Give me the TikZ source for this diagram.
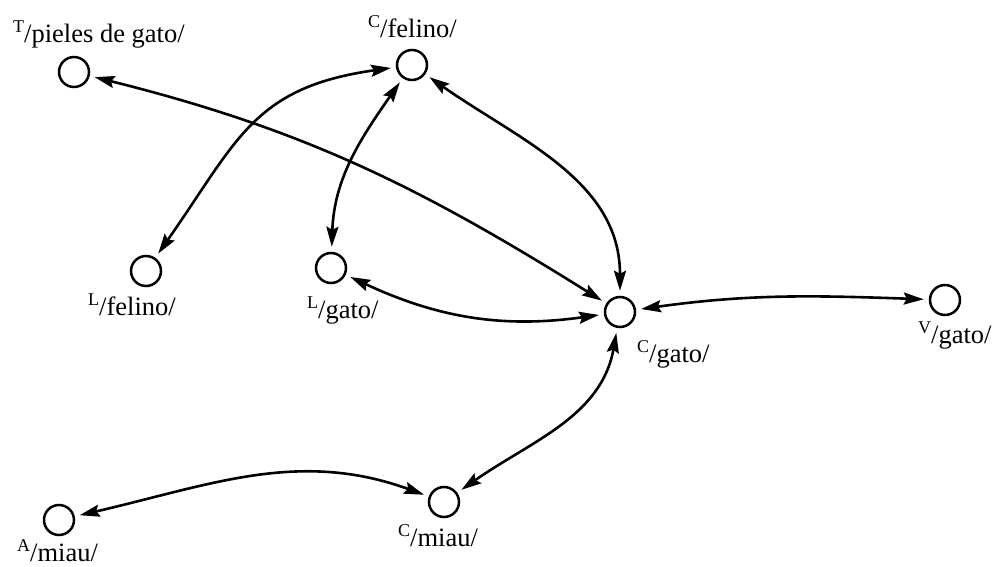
\documentclass[tikz,border=0pt]{standalone}
\usepackage{fontspec}
\setmainfont{Liberation Serif}
\usetikzlibrary{arrows.meta}
% a small raised level letter followed by the form between slashes
\newcommand\unitlabel[2]{\raisebox{10pt}{\fontsize{18}{18}\selectfont #1}/#2/}
\begin{document}
\begin{tikzpicture}[x=1pt,y=1pt,
  unit/.style={circle,draw,line width=2.5pt,minimum size=30pt,inner sep=0pt},
  tag/.style={anchor=base west,inner sep=0pt,font=\fontsize{26.5}{30}\selectfont},
  link/.style={line width=2.6pt,{Stealth[length=20pt,width=12pt,inset=3pt]}-{Stealth[length=20pt,width=12pt,inset=3pt]},
    shorten <=5pt,shorten >=5pt}]
\useasboundingbox (0,0) rectangle (994,-567);

% units
\node[unit] (T)     at (74,-72)  {};
\node[unit] (Cfel)  at (412,-65) {};
\node[unit] (Lfel)  at (146,-271) {};
\node[unit] (Lgato) at (331,-268) {};
\node[unit] (Cgato) at (620,-312) {};
\node[unit] (Vgato) at (945,-300) {};
\node[unit] (Cmiau) at (444,-502) {};
\node[unit] (Amiau) at (59,-520) {};

% labels
\node[tag] (tT)     at (13,-43)   {\unitlabel{T}{pieles de gato}};
\node[tag] (tCfel)  at (368,-38)  {\unitlabel{C}{felino}};
\node[tag] (tLfel)  at (88,-315)  {\unitlabel{L}{felino}};
\node[tag] (tLgato) at (307,-318) {\unitlabel{L}{gato}};
\node[tag] (tCgato) at (637,-362) {\unitlabel{C}{gato}};
\node[tag] (tVgato) at (918,-343) {\unitlabel{V}{gato}};
\node[tag] (tCmiau) at (398,-546) {\unitlabel{C}{miau}};
\node[tag] (tAmiau) at (17,-561)  {\unitlabel{A}{miau}};

% connections
\draw[link] (T)     to[out=-14,in=148] (Cgato);
\draw[link] (Lfel)  to[out=55,in=188,looseness=1.2] (Cfel);
\draw[link] (Lgato) to[out=88,in=235]  (Cfel);
\draw[link] (Cfel)  to[out=-35,in=90]  (Cgato);
\draw[link] (Lgato) to[out=-25,in=188] (Cgato);
\draw[link] (Cgato) to[out=8,in=178]   (Vgato);
\draw[link] (Cgato) to[out=-100,in=35] (Cmiau);
\draw[link] (Amiau) to[out=13,in=160]  (Cmiau);
\end{tikzpicture}
\end{document}
